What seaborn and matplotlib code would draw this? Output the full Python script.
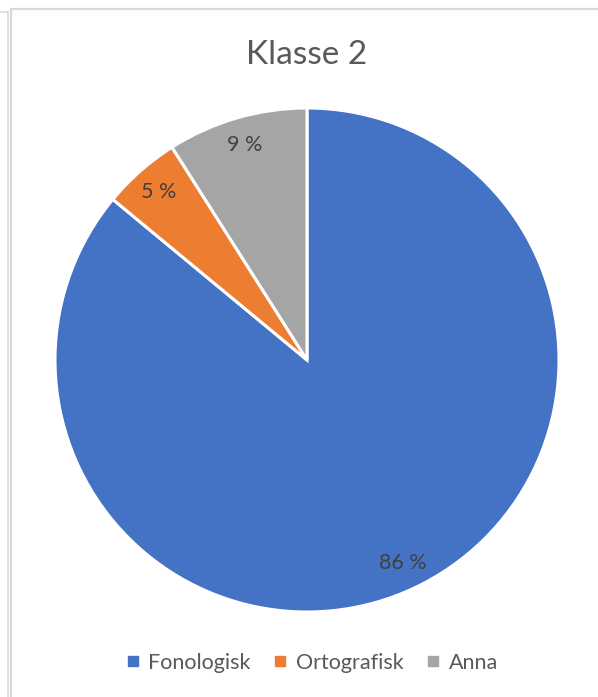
import matplotlib
matplotlib.use("Agg")
import matplotlib.pyplot as plt
from matplotlib.lines import Line2D
import seaborn as sns

# Category shares (percent)
categories = ["Fonologisk", "Ortografisk", "Anna"]
shares = [86, 5, 9]
colors = ["#4472C4", "#ED7D31", "#A5A5A5"]
title = "Klasse 2"

sns.set_theme(style="white")
plt.rcParams["font.family"] = ["Lato", "DejaVu Sans"]

W, H = 598, 697
fig = plt.figure(figsize=(W / 100, H / 100), dpi=100)
fig.patch.set_facecolor("white")

# Pie area: centre (307, 360) px, radius 252 px
cx, cy, r = 307, 360, 252
ax = fig.add_axes([(cx - r) / W, (H - cy - r) / H, 2 * r / W, 2 * r / H])
wedges, texts = ax.pie(
    shares,
    colors=colors,
    startangle=90,
    counterclock=False,
    radius=1,
    labels=[f"{v} %" for v in shares],
    labeldistance=0.89,
    wedgeprops=dict(edgecolor="white", linewidth=2.2),
    textprops=dict(color="#404040", fontsize=15.5),
)
for t in texts:
    t.set_ha("center")
    t.set_va("center")
ax.set_xlim(-1, 1)
ax.set_ylim(-1, 1)
ax.set_aspect("equal")
ax.axis("off")

fig.text(cx / W, 1 - 55 / H, title, ha="center", va="center",
         fontsize=24, color="#595959")

handles = [Line2D([], [], marker="s", linestyle="none", markersize=6.5,
                  markerfacecolor=c, markeredgecolor=c) for c in colors]
fig.legend(handles, categories, loc="center", ncol=3, frameon=False,
           bbox_to_anchor=(312 / W, 1 - 663 / H), fontsize=15.5,
           handlelength=0.6, handletextpad=0.4, columnspacing=1.1,
           labelcolor="#595959")

# Chart frame lines
frame = "#D9D9D9"
def px_line(xs, ys, lw):
    fig.add_artist(Line2D([x / W for x in xs], [1 - y / H for y in ys],
                          transform=fig.transFigure, color=frame, linewidth=lw))

px_line([0, 7.5], [11.5, 11.5], 1.2)
px_line([7.5, 7.5], [11.5, H], 1.2)
px_line([11, W], [8.5, 8.5], 1.6)
px_line([11, 11], [8.5, H], 1.6)

fig.savefig("out.png", dpi=100, facecolor="white")
